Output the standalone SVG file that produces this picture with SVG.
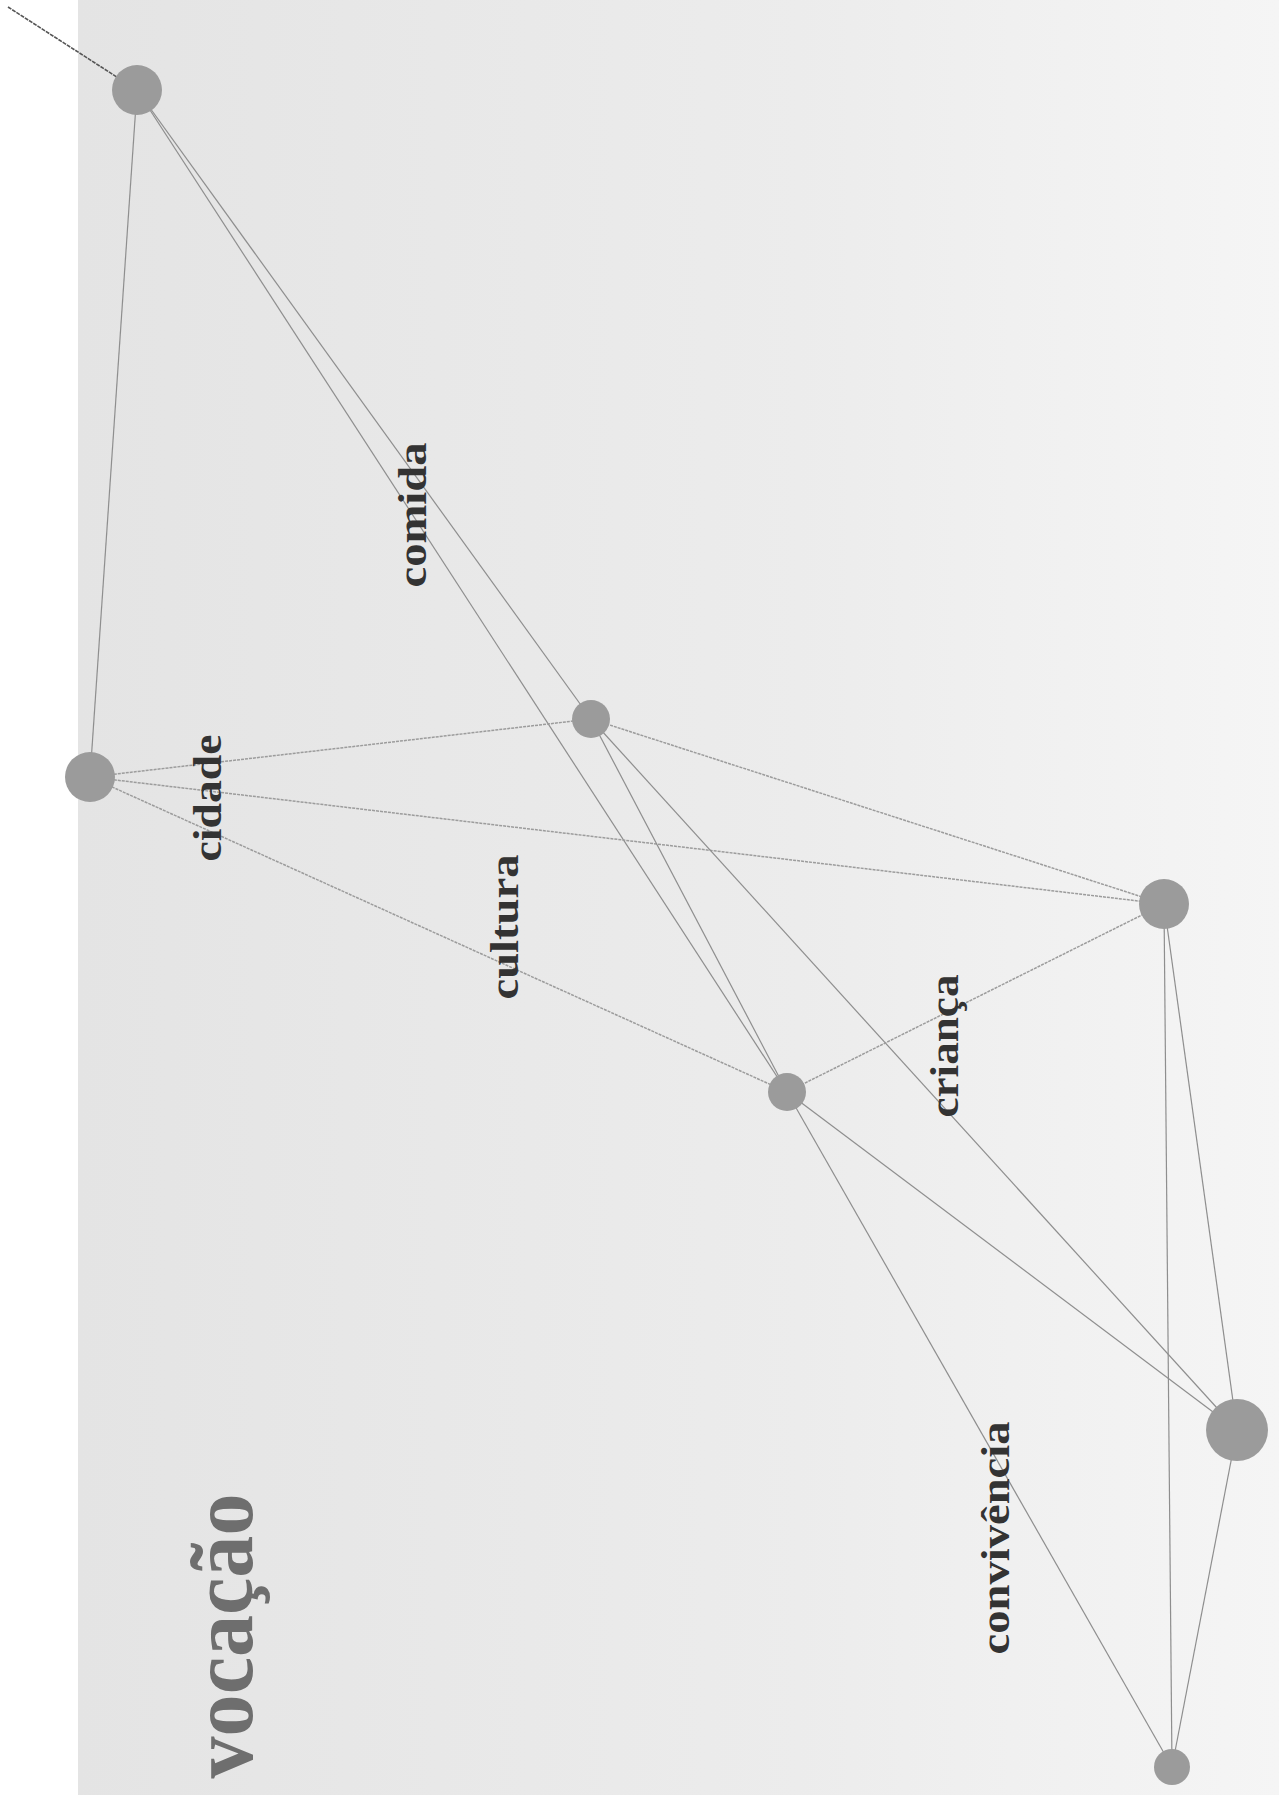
<svg xmlns="http://www.w3.org/2000/svg" width="1279" height="1795" viewBox="0 0 1279 1795">
<defs>
<linearGradient id="paper" x1="0" y1="0" x2="1" y2="0">
<stop offset="0" stop-color="#e4e4e4"/>
<stop offset="0.6" stop-color="#ececec"/>
<stop offset="1" stop-color="#f5f5f5"/>
</linearGradient>
<style>
.edge{stroke:#8e8e8e;stroke-width:1.2;fill:none}
.edge2{stroke:#9c9c9c;stroke-width:1.5;fill:none;stroke-dasharray:3 1}
.node{fill:#9b9b9b}
.lbl{font-family:"Liberation Serif","Times New Roman",serif;font-weight:bold;font-size:40px;fill:#333333}
.title{font-family:"Liberation Serif","Times New Roman",serif;font-weight:bold;font-size:88px;fill:#6e6e6e}
</style>
</defs>
<rect x="0" y="0" width="1279" height="1795" fill="#ffffff"/>
<rect x="78" y="0" width="1201" height="1795" fill="url(#paper)"/>
<g id="connectors">
<line x1="8" y1="7" x2="137" y2="90" stroke="#555" stroke-width="1.6" stroke-dasharray="4 1"/>
<line class="edge" x1="137" y1="90" x2="90" y2="777"/>
<line class="edge" x1="137" y1="90" x2="591" y2="719"/>
<line class="edge" x1="137" y1="90" x2="787" y2="1092"/>
<line class="edge2" x1="90" y1="777" x2="591" y2="719"/>
<line class="edge2" x1="90" y1="777" x2="1164" y2="904"/>
<line class="edge2" x1="90" y1="777" x2="787" y2="1092"/>
<line class="edge2" x1="591" y1="719" x2="1164" y2="904"/>
<line class="edge" x1="591" y1="719" x2="787" y2="1092"/>
<line class="edge" x1="591" y1="719" x2="1237" y2="1430"/>
<line class="edge2" x1="787" y1="1092" x2="1164" y2="904"/>
<line class="edge" x1="787" y1="1092" x2="1237" y2="1430"/>
<line class="edge" x1="787" y1="1092" x2="1172" y2="1767"/>
<line class="edge" x1="1164" y1="904" x2="1237" y2="1430"/>
<line class="edge" x1="1164" y1="904" x2="1172" y2="1767"/>
<line class="edge" x1="1237" y1="1430" x2="1172" y2="1767"/>
</g>
<g id="node-a"><circle class="node" cx="137" cy="90" r="25"/></g>
<g id="node-b"><circle class="node" cx="90" cy="777" r="25"/></g>
<g id="node-c"><circle class="node" cx="591" cy="719" r="19"/></g>
<g id="node-d"><circle class="node" cx="1164" cy="904" r="25"/></g>
<g id="node-e"><circle class="node" cx="787" cy="1092" r="19"/></g>
<g id="node-f"><circle class="node" cx="1237" cy="1430" r="31"/></g>
<g id="node-g"><circle class="node" cx="1172" cy="1767" r="18"/></g>
<g id="labels">
<text class="lbl" transform="translate(426,515) rotate(-90)" text-anchor="middle" textLength="145" lengthAdjust="spacingAndGlyphs">comida</text>
<text class="lbl" transform="translate(221,798) rotate(-90)" text-anchor="middle" textLength="127" lengthAdjust="spacingAndGlyphs">cidade</text>
<text class="lbl" transform="translate(518,927) rotate(-90)" text-anchor="middle" textLength="145" lengthAdjust="spacingAndGlyphs">cultura</text>
<text class="lbl" transform="translate(958,1046) rotate(-90)" text-anchor="middle" textLength="143" lengthAdjust="spacingAndGlyphs">criança</text>
<text class="lbl" transform="translate(1009,1538) rotate(-90)" text-anchor="middle" textLength="233" lengthAdjust="spacingAndGlyphs">convivência</text>
<text class="title" transform="translate(252,1636) rotate(-90)" text-anchor="middle" textLength="285" lengthAdjust="spacingAndGlyphs">vocação</text>
</g>
</svg>
